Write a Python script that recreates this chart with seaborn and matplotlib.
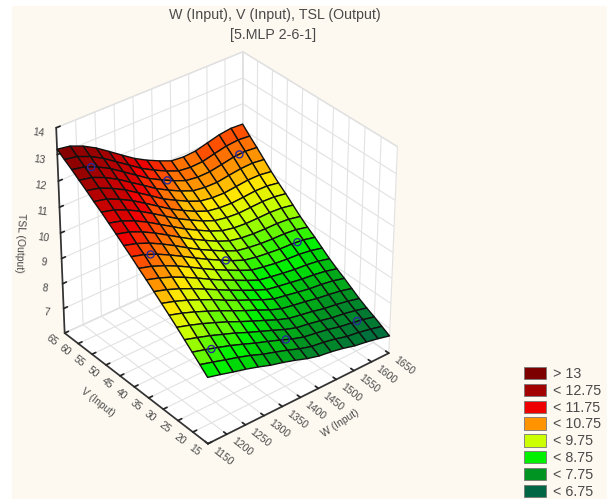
import numpy as np
import matplotlib
matplotlib.use("Agg")
import matplotlib.pyplot as plt
from matplotlib.colors import ListedColormap, Normalize
from matplotlib.patches import Patch, Rectangle
from mpl_toolkits.mplot3d import proj3d
import seaborn as sns

# W across, V down the rows (15 to 65)
w_vals = [1150, 1183.3, 1216.7, 1250, 1283.3, 1316.7, 1350, 1383.3, 1416.7, 1450, 1483.3, 1516.7, 1550, 1583.3, 1616.7, 1650]
v_vals = [15, 17.5, 20, 22.5, 25, 27.5, 30, 32.5, 35, 37.5, 40, 42.5, 45, 47.5, 50, 52.5, 55, 57.5, 60, 62.5, 65]
tsl = [
    [8.60, 8.47, 8.33, 8.20, 8.05, 7.88, 7.75, 7.60, 7.43, 7.30, 7.23, 7.13, 7.00, 6.92, 6.82, 6.70],
    [8.87, 8.73, 8.58, 8.44, 8.28, 8.09, 7.94, 7.78, 7.60, 7.46, 7.39, 7.29, 7.16, 7.09, 6.99, 6.87],
    [9.13, 8.99, 8.84, 8.68, 8.50, 8.31, 8.14, 7.96, 7.77, 7.62, 7.54, 7.45, 7.33, 7.25, 7.16, 7.04],
    [9.39, 9.24, 9.08, 8.90, 8.72, 8.51, 8.32, 8.13, 7.93, 7.77, 7.69, 7.59, 7.48, 7.41, 7.31, 7.19],
    [9.65, 9.50, 9.33, 9.14, 8.94, 8.72, 8.51, 8.31, 8.10, 7.93, 7.84, 7.75, 7.64, 7.57, 7.48, 7.36],
    [9.90, 9.75, 9.57, 9.37, 9.16, 8.93, 8.71, 8.50, 8.28, 8.10, 8.01, 7.93, 7.83, 7.76, 7.68, 7.56],
    [10.14, 9.99, 9.81, 9.60, 9.38, 9.13, 8.90, 8.69, 8.47, 8.28, 8.19, 8.10, 8.01, 7.96, 7.88, 7.76],
    [10.38, 10.23, 10.04, 9.82, 9.58, 9.33, 9.09, 8.86, 8.64, 8.44, 8.35, 8.27, 8.19, 8.14, 8.06, 7.94],
    [10.62, 10.47, 10.28, 10.05, 9.80, 9.53, 9.28, 9.05, 8.82, 8.61, 8.52, 8.44, 8.37, 8.33, 8.26, 8.14],
    [10.85, 10.71, 10.51, 10.28, 10.02, 9.74, 9.48, 9.24, 9.01, 8.80, 8.71, 8.63, 8.58, 8.55, 8.48, 8.37],
    [11.09, 10.95, 10.75, 10.50, 10.23, 9.95, 9.68, 9.43, 9.19, 8.99, 8.89, 8.83, 8.78, 8.76, 8.71, 8.60],
    [11.31, 11.17, 10.97, 10.72, 10.44, 10.14, 9.86, 9.61, 9.37, 9.16, 9.07, 9.01, 8.98, 8.97, 8.92, 8.81],
    [11.54, 11.41, 11.20, 10.94, 10.65, 10.35, 10.06, 9.80, 9.55, 9.35, 9.25, 9.20, 9.18, 9.18, 9.14, 9.04],
    [11.76, 11.63, 11.42, 11.16, 10.86, 10.56, 10.26, 10.00, 9.75, 9.55, 9.45, 9.41, 9.41, 9.42, 9.39, 9.30],
    [11.98, 11.85, 11.64, 11.38, 11.08, 10.77, 10.46, 10.20, 9.95, 9.75, 9.66, 9.62, 9.64, 9.66, 9.64, 9.56],
    [12.18, 12.07, 11.85, 11.59, 11.28, 10.96, 10.64, 10.38, 10.13, 9.93, 9.85, 9.82, 9.85, 9.89, 9.88, 9.80],
    [12.40, 12.29, 12.07, 11.81, 11.49, 11.17, 10.84, 10.58, 10.33, 10.13, 10.05, 10.03, 10.08, 10.13, 10.13, 10.06],
    [12.60, 12.50, 12.29, 12.02, 11.70, 11.38, 11.05, 10.78, 10.54, 10.34, 10.27, 10.26, 10.33, 10.39, 10.41, 10.35],
    [12.81, 12.71, 12.50, 12.24, 11.91, 11.58, 11.25, 10.99, 10.75, 10.55, 10.48, 10.49, 10.57, 10.66, 10.69, 10.64],
    [13.00, 12.91, 12.71, 12.44, 12.11, 11.78, 11.45, 11.18, 10.94, 10.74, 10.68, 10.70, 10.81, 10.91, 10.95, 10.91],
    [13.20, 13.12, 12.92, 12.65, 12.32, 11.98, 11.65, 11.38, 11.15, 10.95, 10.90, 10.93, 11.05, 11.17, 11.23, 11.20],
]

# the 3x3 design points
pts_w = [1200, 1400, 1600, 1200, 1400, 1600, 1200, 1400, 1600]
pts_v = [60, 60, 60, 40, 40, 40, 20, 20, 20]
pts_tsl = [12.60, 10.87, 10.67, 10.85, 9.31, 8.73, 8.90, 7.87, 7.22]

w_ticks = list(range(1150, 1651, 50))
v_ticks = list(range(15, 66, 5))
z_ticks = list(range(7, 15))

legend_labels = ["> 13", "< 12.75", "< 11.75", "< 10.75", "< 9.75", "< 8.75", "< 7.75", "< 6.75"]
legend_colors = ["#7d0000", "#a30000", "#ee0000", "#ff9400", "#ccff00", "#00f000", "#009422", "#006644"]
# half unit stops for the surface, keeps the yellow and orange clean
surface_colors = ["#006644", "#007a33", "#009422", "#00c010", "#00f000", "#66f800", "#ccff00", "#ffe800",
                  "#ff9400", "#ff5000", "#ee0000", "#c80000", "#a30000", "#900000", "#7d0000"]

sns.set_theme(style="white")
plt.rcParams["font.family"] = ["Liberation Sans", "DejaVu Sans"]
text_col = "#4a4a4a"
bg = "#fdf9f0"

fig = plt.figure(figsize=(6.07, 4.99), dpi=100, facecolor="white")
fig.patches.append(Rectangle((12 / 607, 0), 1, 1 - 6 / 499, transform=fig.transFigure, fc=bg, ec="none", zorder=-5))

ax = fig.add_axes([-0.139, 0.0, 1, 1], projection="3d", computed_zorder=False)
ax.patch.set_alpha(0)
ax.set_proj_type("persp", focal_length=1.0)
ax.view_init(elev=34, azim=-129)
ax.set_box_aspect((1, 1, 1.05), zoom=0.81)

X, Y = np.meshgrid(w_vals, v_vals)
Z = np.array(tsl)
steps = sns.blend_palette(surface_colors, n_colors=29)
ax.plot_surface(X, Y, Z, rstride=1, cstride=1, cmap=ListedColormap(steps), norm=Normalize(6.5, 13.5),
                shade=False, edgecolor="#111111", linewidth=1.0, zorder=2)
ax.scatter(pts_w, pts_v, pts_tsl, s=26, facecolors="none", edgecolors="#2a2a9a", linewidths=1.0,
           depthshade=False, zorder=3)

ax.set_xlim(1150, 1650, view_margin=0)
ax.set_ylim(15, 65, view_margin=0)
ax.set_zlim(6, 14, view_margin=0)
ax.set_xticks(w_ticks)
ax.set_yticks(v_ticks)
ax.set_zticks(z_ticks)
ax.set_xticklabels([])
ax.set_yticklabels([])

for axis in (ax.xaxis, ax.yaxis, ax.zaxis):
    axis.set_pane_color("white")
    axis.pane.set_edgecolor("#dddddd")
    axis.line.set_color("#333333")
    axis._axinfo["grid"].update(color="#e2e2e2", linewidth=0.8)
    axis._axinfo["tick"].update(inward_factor=0.0, outward_factor=0.25)

ax.tick_params(axis="z", labelsize=7.5, labelcolor=text_col, labelrotation=-8, pad=2)


def floor_label(text, x, y, dx, dy):
    # 3d tick labels only slide along the tick direction, so annotate the projected tick
    px, py, _ = proj3d.proj_transform(x, y, 6, ax.get_proj())
    ax.annotate(text, (px, py), xytext=(dx, dy), textcoords="offset pixels", fontsize=7.5, color=text_col,
                rotation=-38, ha="center", va="center", annotation_clip=False)


for w in w_ticks:
    floor_label(str(w), w, 15, 15, -13)
for v in v_ticks:
    floor_label(str(v), 1150, v, -13, -7)

fig.text(340 / 607, 1 - 423 / 499, "W (Input)", fontsize=7.5, color=text_col, rotation=33, ha="center", va="center")
fig.text(98 / 607, 1 - 402 / 499, "V (Input)", fontsize=7.5, color=text_col, rotation=-38, ha="center", va="center")
fig.text(20 / 607, 1 - 243 / 499, "TSL (Output)", fontsize=7.5, color=text_col, rotation=-92, ha="center", va="center")

fig.text(274.5 / 607, 1 - 15 / 499, "W (Input), V (Input), TSL (Output)", ha="center", va="center", fontsize=10.3, color=text_col)
fig.text(273 / 607, 1 - 35 / 499, "[5.MLP 2-6-1]", ha="center", va="center", fontsize=10.3, color=text_col)

handles = [Patch(facecolor=c, edgecolor="#777777", linewidth=0.6) for c in legend_colors]
fig.legend(handles, legend_labels, loc="lower left", bbox_to_anchor=(514 / 607, -10 / 499), frameon=False,
           fontsize=10.3, labelcolor=text_col, handlelength=1.55, handleheight=0.95,
           handletextpad=0.5, labelspacing=0.195, borderpad=0.2)

fig.savefig("out.png", dpi=100, facecolor=fig.get_facecolor())
